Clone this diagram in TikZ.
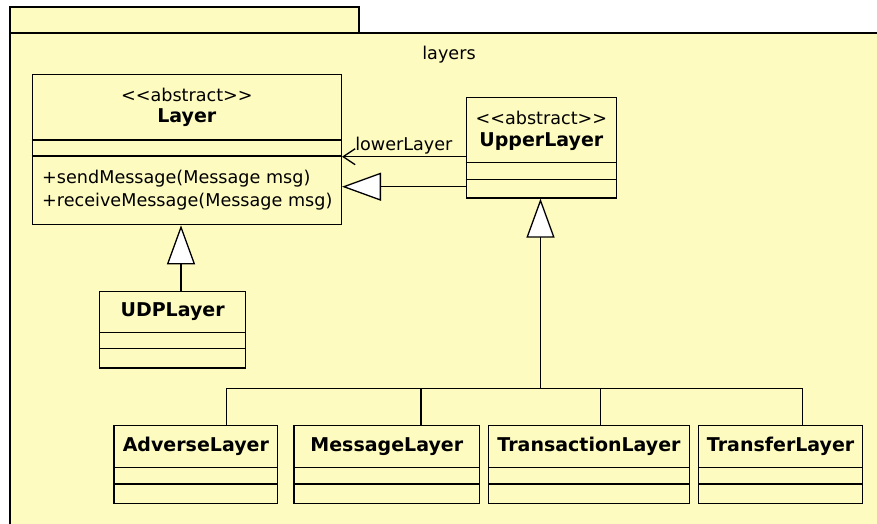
\documentclass[tikz,border=0pt]{standalone}
\usepackage{fontspec}
\setmainfont{DejaVu Sans}
\usepackage{tikz}
\usetikzlibrary{arrows.meta, calc, positioning}

\definecolor{pkgyellow}{RGB}{253,251,192}

\tikzset{
  umlclass/.style={draw, fill=pkgyellow, line width=1.3pt, anchor=north west, inner sep=0pt},
  compline/.style={line width=1.3pt},
  stereo/.style={font=\fontsize{17.6}{20}\selectfont},
  cname/.style={font=\fontsize{19}{21}\selectfont\bfseries},
  opline/.style={font=\fontsize{17.6}{20}\selectfont, anchor=west},
  gen/.style={line width=1.3pt, -{Triangle[length=39pt, width=28pt, fill=white, line width=1.3pt]}},
  assoc/.style={line width=1.3pt, -{Straight Barb[length=12pt, width=16pt, line width=1.3pt]}}
}

\begin{document}
\begin{tikzpicture}[x=1pt, y=-1pt]
  \useasboundingbox (0,0) rectangle (877,524);

  % package frame
  \fill[pkgyellow] (10,7) rectangle (359,33);
  \fill[pkgyellow] (10,33) rectangle (877,524);
  \draw[line width=1.3pt] (10,33) -- (10,7) -- (359,7) -- (359,33);
  \draw[line width=1.3pt] (877,33) -- (10,33) -- (10,524);
  \node[stereo] (pkgname) at (449,55) {layers};

  % abstract classes
  \node[umlclass, minimum width=309pt, minimum height=150pt] (layer) at (31.7,74) {};
  \draw[compline] ($(layer.north west)+(0,66)$) -- ($(layer.north east)+(0,66)$);
  \draw[compline] ($(layer.north west)+(0,82)$) -- ($(layer.north east)+(0,82)$);
  \node[stereo] (layerstereo) at ($(layer.north)+(0,21)$) {{<}{<}abstract{>}{>}};
  \node[cname] (layername) at ($(layer.north)+(0,44)$) {Layer};
  \node[opline] (opsend) at ($(layer.north west)+(7,105)$) {+sendMessage(Message msg)};
  \node[opline] (oprecv) at ($(layer.north west)+(7,128)$) {+receiveMessage(Message msg)};

  \node[umlclass, minimum width=150pt, minimum height=100.6pt] (upper) at (465.7,96.7) {};
  \draw[compline] ($(upper.north west)+(0,65.6)$) -- ($(upper.north east)+(0,65.6)$);
  \draw[compline] ($(upper.north west)+(0,82.6)$) -- ($(upper.north east)+(0,82.6)$);
  \node[stereo] (upperstereo) at ($(upper.north)+(0,21)$) {{<}{<}abstract{>}{>}};
  \node[cname] (uppername) at ($(upper.north)+(0,45)$) {UpperLayer};

  % concrete classes
  \node[umlclass, minimum width=146pt, minimum height=76.3pt] (udp) at (99,291) {};
  \draw[compline] ($(udp.north west)+(0,41.3)$) -- ($(udp.north east)+(0,41.3)$);
  \draw[compline] ($(udp.north west)+(0,57.7)$) -- ($(udp.north east)+(0,57.7)$);
  \node[cname] (udpname) at ($(udp.north)+(0,20.7)$) {UDPLayer};

  \foreach \nm/\lbl/\xl/\w in {adverse/AdverseLayer/113.4/163.6,
                               message/MessageLayer/293.3/185.7,
                               transaction/TransactionLayer/488/200.7,
                               transfer/TransferLayer/698/164}{
    \node[umlclass, minimum width=\w pt, minimum height=77.7pt] (\nm) at (\xl,425) {};
    \draw[compline] ($(\nm.north west)+(0,42.3)$) -- ($(\nm.north east)+(0,42.3)$);
    \draw[compline] ($(\nm.north west)+(0,59)$) -- ($(\nm.north east)+(0,59)$);
    \node[cname] (\nm name) at ($(\nm.north)+(0,21.7)$) {\lbl};
  }

  % association and generalizations
  \draw[assoc] (upper.west |- 0,156.7) -- (layer.east |- 0,156.7)
    node[pos=0.5, above, stereo, yshift=-1pt] (assoclbl) {lowerLayer};
  \draw[gen] (upper.west |- 0,186.7) -- (layer.east |- 0,186.7);
  \draw[gen] (udp.north -| 181,0) -- (layer.south -| 181,0);

  \coordinate (split) at (540.5,388.3);
  \coordinate (j1) at (226.4,388.3);
  \coordinate (j2) at (421,388.3);
  \coordinate (j3) at (600.5,388.3);
  \coordinate (j4) at (802.7,388.3);
  \draw[gen] (split) -- (upper.south -| split);
  \draw[compline] (adverse.north -| j1) -- (j1) -- (j4) -- (transfer.north -| j4);
  \draw[compline] (message.north -| j2) -- (j2);
  \draw[compline] (transaction.north -| j3) -- (j3);
\end{tikzpicture}
\end{document}
